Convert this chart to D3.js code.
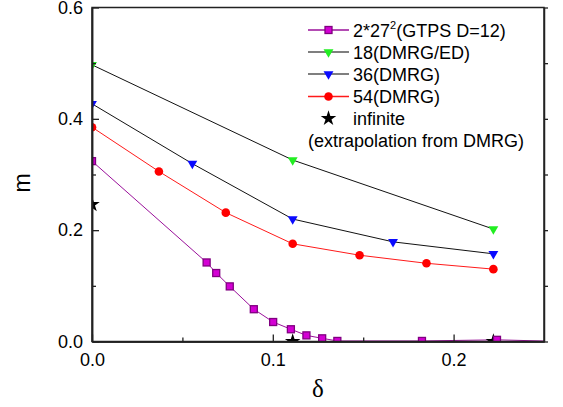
<!DOCTYPE html>
<html>
<head>
<meta charset="utf-8">
<script src="https://cdn.jsdelivr.net/npm/d3@7"></script>
<style>
  body { margin: 0; background: #fff; }
  text { font-family: "Liberation Sans", Arial, sans-serif; fill: #000; }
</style>
</head>
<body>
<div id="chart"></div>
<script>
// data
const gtpsX = [0, 0.0634, 0.0687, 0.0762, 0.0895, 0.1002, 0.110, 0.1186, 0.1273, 0.1357, 0.1825, 0.224, 0.26];
const gtpsY = [0.324, 0.142, 0.123, 0.099, 0.058, 0.035, 0.022, 0.011, 0.0057, 0.001, 0.001, 0.003, 0.0];
const n18X = [0, 0.111, 0.222];
const n18Y = [0.497, 0.326, 0.202];
const n36X = [0, 0.0555, 0.111, 0.1665, 0.222];
const n36Y = [0.427, 0.3195, 0.22, 0.179, 0.1575];
const n54X = [0, 0.037, 0.074, 0.111, 0.148, 0.185, 0.222];
const n54Y = [0.385, 0.3055, 0.2315, 0.1755, 0.155, 0.1405, 0.13];
const infX = [0, 0.111, 0.222];
const infY = [0.246, 0.0, 0.0];

const xTicks = [0, 0.1, 0.2];
const xMinor = [0.05, 0.15];
const yTicks = [0, 0.2, 0.4, 0.6];
const yMinor = [0.1, 0.3, 0.5];

const width = 563, height = 407;
const margin = {top: 7.5, right: 19, bottom: 65.5, left: 92};

var svg = d3.select("#chart")
    .append("svg")
    .attr("width", width)
    .attr("height", height);

var x = d3.scaleLinear()
    .domain([0, 0.25])
    .range([margin.left, width - margin.right]);
var y = d3.scaleLinear()
    .domain([0, 0.6])
    .range([height - margin.bottom, margin.top]);

svg.append("defs").append("clipPath")
    .attr("id", "plotclip")
    .append("rect")
    .attr("x", x(0)).attr("y", y(0.6))
    .attr("width", x(0.25) - x(0))
    .attr("height", y(0) - y(0.6));

// series
const series = [
    {xs: gtpsX, ys: gtpsY, line: "#9a109a", marker: "square", fill: "#d400d4", stroke: "#800080",
     label: "2*27", sup: "2", rest: "(GTPS D=12)"},
    {xs: n18X, ys: n18Y, line: "#111", marker: "tri", fill: "#22ee22", stroke: "none", label: "18(DMRG/ED)"},
    {xs: n36X, ys: n36Y, line: "#111", marker: "tri", fill: "#0a0aff", stroke: "none", label: "36(DMRG)"},
    {xs: n54X, ys: n54Y, line: "#ff1a1a", marker: "circle", fill: "#ff0000", stroke: "none", label: "54(DMRG)"}
];

function drawMarker(g, type, fill, stroke) {
    if (type == "square") {
        g.append("rect")
            .attr("x", -3.5).attr("y", -3.5)
            .attr("width", 7).attr("height", 7)
            .attr("fill", fill).attr("stroke", stroke).attr("stroke-width", 1.3);
    } else if (type == "tri") {
        g.append("path")
            .attr("d", d3.symbol(d3.symbolTriangle, 42)())
            .attr("transform", "rotate(180)")
            .attr("fill", fill);
    } else if (type == "circle") {
        g.append("circle").attr("r", 4.3).attr("fill", fill);
    } else if (type == "star") {
        g.append("path")
            .attr("d", d3.symbol(d3.symbolStar, 75)())
            .attr("fill", "#000");
    }
}

var plot = svg.append("g").attr("clip-path", "url(#plotclip)");

series.forEach(s => {
    const pts = s.xs.map((v, i) => [v, s.ys[i]]);
    plot.append("path")
        .datum(pts)
        .attr("fill", "none")
        .attr("stroke", s.line)
        .attr("stroke-width", 1)
        .attr("d", d3.line().x(d => x(d[0])).y(d => y(d[1])));
});

// stars first so the other markers sit on top
infX.forEach((v, i) => {
    var g = plot.append("g").attr("transform", "translate(" + x(v) + "," + y(infY[i]) + ")");
    drawMarker(g, "star");
});

series.slice().reverse().forEach(s => {
    s.xs.forEach((v, i) => {
        var g = plot.append("g").attr("transform", "translate(" + x(v) + "," + y(s.ys[i]) + ")");
        drawMarker(g, s.marker, s.fill, s.stroke);
    });
});

// frame
svg.append("rect")
    .attr("x", x(0)).attr("y", y(0.6))
    .attr("width", x(0.25) - x(0))
    .attr("height", y(0) - y(0.6))
    .attr("fill", "none")
    .attr("stroke", "#222")
    .attr("stroke-width", 1.5);

// axes, ticks pointing inward
var xAxis = svg.append("g")
    .attr("transform", "translate(0," + y(0) + ")")
    .call(d3.axisBottom(x).tickValues(xTicks).tickFormat(d3.format(".1f"))
        .tickSizeInner(-7).tickSizeOuter(0).tickPadding(12));
svg.append("g")
    .attr("transform", "translate(0," + y(0) + ")")
    .call(d3.axisBottom(x).tickValues(xMinor).tickFormat("").tickSizeInner(-4).tickSizeOuter(0));

var yAxis = svg.append("g")
    .attr("transform", "translate(" + x(0) + ",0)")
    .call(d3.axisLeft(y).tickValues(yTicks).tickFormat(d3.format(".1f"))
        .tickSizeInner(-7).tickSizeOuter(0).tickPadding(9));
svg.append("g")
    .attr("transform", "translate(" + x(0) + ",0)")
    .call(d3.axisLeft(y).tickValues(yMinor).tickFormat("").tickSizeInner(-4).tickSizeOuter(0));

// small outward ticks on the right side
svg.append("g")
    .attr("transform", "translate(" + x(0.25) + ",0)")
    .call(d3.axisRight(y).tickValues(yTicks.concat(yMinor)).tickFormat("").tickSizeInner(4).tickSizeOuter(0));

svg.selectAll(".domain").attr("stroke", "#222").attr("stroke-width", 1.5);
svg.selectAll(".tick line").attr("stroke", "#222").attr("stroke-width", 1.3);
svg.selectAll(".tick text")
    .style("font-family", "'Liberation Sans', Arial, sans-serif")
    .style("font-size", "18px")
    .attr("fill", "#000");

// axis titles
svg.append("text")
    .attr("transform", "translate(30,183) rotate(-90)")
    .attr("text-anchor", "middle")
    .style("font-size", "23px")
    .text("m");
svg.append("text")
    .attr("x", x(0.125)).attr("y", 397)
    .attr("text-anchor", "middle")
    .style("font-family", "'Liberation Serif', 'Times New Roman', serif")
    .style("font-size", "25px")
    .text("δ");

// legend
const legX0 = 308, legX1 = 349, legText = 353;
const rowY = [30, 52, 74, 96.5, 118.5, 140];
series.forEach((s, i) => {
    var row = svg.append("g").attr("transform", "translate(0," + rowY[i] + ")");
    row.append("line")
        .attr("x1", legX0).attr("x2", legX1)
        .attr("stroke", s.line == "#111" ? "#555" : s.line)
        .attr("stroke-width", 1.3);
    var m = row.append("g").attr("transform", "translate(" + (legX0 + legX1) / 2 + ",0)");
    drawMarker(m, s.marker, s.fill, s.stroke);
    var t = row.append("text")
        .attr("x", legText).attr("y", 6.5)
        .style("font-size", "18px");
    if (s.sup) {
        t.append("tspan").text(s.label);
        t.append("tspan").attr("dy", -8).style("font-size", "11px").text(s.sup);
        t.append("tspan").attr("dy", 8).text(s.rest);
    } else {
        t.text(s.label);
    }
});
var starRow = svg.append("g").attr("transform", "translate(" + (legX0 + legX1) / 2 + "," + rowY[4] + ")");
drawMarker(starRow, "star");
svg.append("text")
    .attr("x", legText).attr("y", rowY[4] + 6.5)
    .style("font-size", "18px")
    .text("infinite");
svg.append("text")
    .attr("x", 308).attr("y", rowY[5] + 6.5)
    .style("font-size", "18px")
    .text("(extrapolation from DMRG)");
</script>
</body>
</html>
